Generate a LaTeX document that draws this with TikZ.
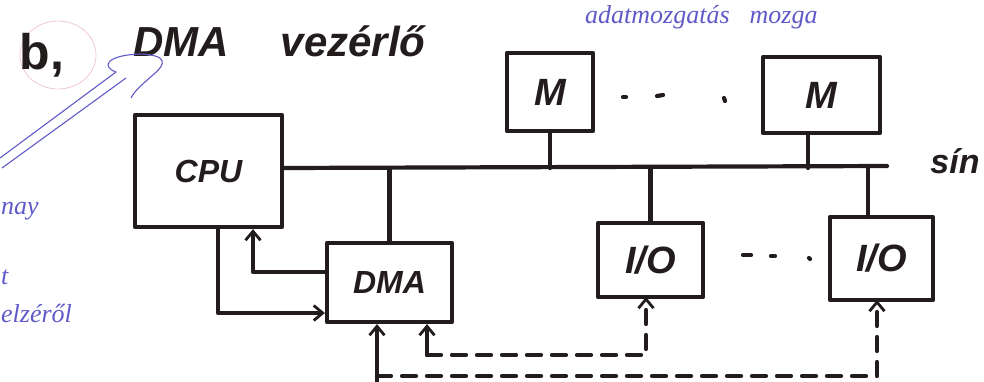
\documentclass[tikz,border=0pt]{standalone}
\usepackage{fontspec}
\setmainfont{Liberation Sans}
\newfontfamily\handfont{Liberation Serif}
\usetikzlibrary{arrows.meta}
\definecolor{ink}{RGB}{35,28,28}
\definecolor{blueink}{RGB}{95,90,200}
\definecolor{pinkink}{RGB}{240,200,215}
\begin{document}
\begin{tikzpicture}[x=1pt,y=-1pt,
  wire/.style={draw=ink,line width=4.2pt,line cap=round,line join=round},
  dwire/.style={wire,dash pattern=on 14pt off 11pt},
  tip/.style={-{Straight Barb[length=9pt,width=15pt,line width=2.8pt]}},
  box/.style={wire,rectangle,inner sep=0pt,font=\fontsize{32}{34}\selectfont\itshape\bfseries,text=ink},
  lbl/.style={inner sep=0pt,text=ink,font=\fontsize{42}{44}\selectfont\itshape\bfseries},
  blue/.style={inner sep=0pt,text=blueink,font=\handfont\fontsize{26}{28}\selectfont\itshape}]
\useasboundingbox (0,0) rectangle (984,381);
% title
\draw[pinkink,line width=0.8pt] (58,55) ellipse (38pt and 34pt);
\node[lbl,font=\fontsize{50}{52}\selectfont\bfseries] (bb) at (42,55) {b,};
\node[lbl,anchor=base west] (title) at (133,56) {DMA\hspace{52pt}vezérlő};
% blue arrow
\draw[blueink,line width=1.1pt,line join=round] (0,158) -- (116,72)
  .. controls (100,66) and (108,55) .. (140,54)
  .. controls (168,55) and (166,64) .. (154,74)
  .. controls (144,83) and (135,90) .. (131,98);
\draw[blueink,line width=1.1pt] (2,168) -- (126,78);
% blue fragments
\node[blue,anchor=base west] (frag1) at (585,23) {\fontsize{26}{28}\selectfont adatmozgatás\hspace{20pt}mozga};
\node[blue,anchor=base west] (frag2) at (1,214) {nay};
\node[blue,anchor=base west] (frag3) at (1,284) {t};
\node[blue,anchor=base west] (frag4) at (1,322) {elzéről};
% boxes
\node[box,minimum width=147pt,minimum height=112pt] (cpu) at (208.5,171) {CPU};
\node[box,minimum width=86pt,minimum height=78pt,font=\fontsize{38}{40}\selectfont\itshape\bfseries] (m1) at (550,92) {M};
\node[box,minimum width=117pt,minimum height=76pt,font=\fontsize{38}{40}\selectfont\itshape\bfseries] (m2) at (821.5,95) {M};
\node[box,minimum width=125pt,minimum height=79pt] (dma) at (389.5,282.5) {DMA};
\node[box,minimum width=105pt,minimum height=74pt,font=\fontsize{38}{40}\selectfont\itshape\bfseries] (io1) at (650.5,260) {I/O};
\node[box,minimum width=103pt,minimum height=83pt,font=\fontsize{38}{40}\selectfont\itshape\bfseries] (io2) at (881.5,258.5) {I/O};
\node[lbl,font=\fontsize{34}{36}\selectfont\bfseries\itshape] (sin) at (955,161) {sín};
% bus
\coordinate (busL) at (282,168);
\coordinate (busR) at (887,166);
\draw[wire] (busL) -- (busR);
\draw[wire] (m1.south) -- (m1.south |- busL);
\coordinate (m2c) at (808,133);
\draw[wire] (m2c) -- (m2c |- busL);
\draw[wire] (dma.north) -- (dma.north |- busL);
\draw[wire] (io1.north) -- (io1.north |- busL);
\coordinate (io2c) at (868,217);
\draw[wire] (io2c) -- (io2c |- busL);
% CPU <-> DMA control lines
\coordinate (a1) at (253,272);
\draw[wire,tip] (dma.west |- a1) -- (a1) -- (a1 |- cpu.south);
\coordinate (a2) at (218,313);
\draw[wire,tip] (a2 |- cpu.south) -- (a2) -- (a2 -| dma.west);
% dashed request lines
\coordinate (d1) at (427,355);
\coordinate (io1in) at (646,297);
\draw[wire,tip] (d1) -- (d1 |- dma.south);
\draw[dwire,tip] (d1) -| (io1in);
\coordinate (d2) at (377,376);
\coordinate (io2in) at (877,300);
\draw[wire,tip] ([yshift=-30pt]d2) -- (d2 |- dma.south);
\draw[dwire,tip] (d2) -| (io2in);
% ellipsis dots
\draw[wire] (623,97) -- (626,97);
\draw[wire] (657,96) -- (663,95);
\draw[wire] (724,98) -- (725,101);
\draw[wire] (743,255) -- (751,255);
\draw[wire] (771,256) -- (775,256);
\draw[wire] (809,258) -- (810,259);
\end{tikzpicture}
\end{document}
